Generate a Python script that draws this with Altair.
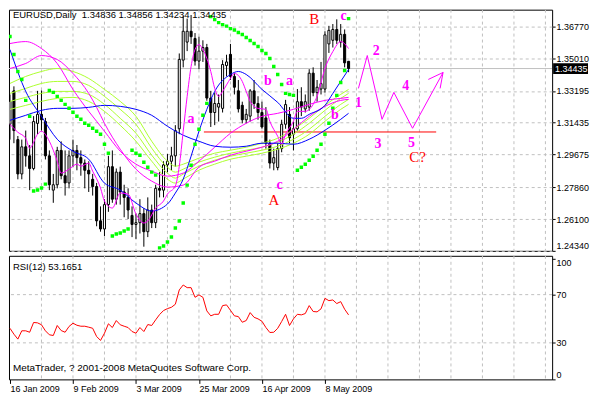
import altair as alt
import pandas as pd

# ---------------- data ----------------
TITLE = "EURUSD,Daily\u00a0 1.34836 1.34856 1.34234 1.34435"
RSI_TITLE = "RSI(12) 53.1651"
COPYRIGHT = "MetaTrader, ? 2001-2008 MetaQuotes Software Corp."

DATE_TICKS = [0, 16, 32, 48, 64, 80]
DATE_LABELS = ["16 Jan 2009", "9 Feb 2009", "3 Mar 2009", "25 Mar 2009", "16 Apr 2009", "8 May 2009"]
GRID_BARS = [8, 16, 24, 32, 40, 48, 56, 64, 72, 80, 88, 96, 104, 112, 120, 128, 136]
PRICE_TICKS = [1.2434, 1.2610, 1.2786, 1.29675, 1.31435, 1.33195, 1.3501, 1.3677]
RSI_TICKS = [0, 30, 70, 100]
RSI_LEVELS = [30, 70]

OPEN = [1.3135, 1.3320, 1.3050, 1.2860, 1.3010, 1.2960, 1.2890, 1.3140, 1.3190, 1.3150,
        1.2960, 1.2770, 1.2800, 1.2990, 1.2850, 1.2810, 1.2960, 1.2990, 1.2950, 1.2920,
        1.2880, 1.2830, 1.2790, 1.2600, 1.2555, 1.2690, 1.2900, 1.2720, 1.2870, 1.2760,
        1.2730, 1.2630, 1.2580, 1.2590, 1.2640, 1.2540, 1.2660, 1.2590, 1.2780, 1.2770,
        1.2910, 1.2930, 1.2960, 1.3110, 1.3490, 1.3590, 1.3650, 1.3610, 1.3485, 1.3540,
        1.3560, 1.3280, 1.3200, 1.3230, 1.3223, 1.3460, 1.3522, 1.3400, 1.3320, 1.3240,
        1.3160, 1.3180, 1.3320, 1.3250, 1.3200, 1.3170, 1.3030, 1.2920, 1.2895, 1.3000,
        1.3135, 1.3190, 1.3080, 1.3110, 1.3260, 1.3220, 1.3230, 1.3418, 1.3310, 1.3330,
        1.3330, 1.3580, 1.3600, 1.3660, 1.3590, 1.3633, 1.34836]
HIGH = [1.3300, 1.3345, 1.3070, 1.3050, 1.3100, 1.3020, 1.3180, 1.3320, 1.3322, 1.3170,
        1.2990, 1.2860, 1.3010, 1.3040, 1.2990, 1.2990, 1.3050, 1.3020, 1.2990, 1.2940,
        1.2930, 1.2860, 1.2810, 1.2680, 1.2720, 1.2960, 1.2990, 1.2890, 1.2900, 1.2800,
        1.2780, 1.2680, 1.2640, 1.2720, 1.2670, 1.2730, 1.2690, 1.2800, 1.2870, 1.2930,
        1.2970, 1.3010, 1.3130, 1.3527, 1.3733, 1.3720, 1.3740, 1.3640, 1.3620, 1.3600,
        1.3580, 1.3320, 1.3310, 1.3300, 1.3490, 1.3520, 1.3580, 1.3420, 1.3380, 1.3260,
        1.3220, 1.3330, 1.3380, 1.3290, 1.3260, 1.3230, 1.3050, 1.3000, 1.3030, 1.3160,
        1.3270, 1.3230, 1.3150, 1.3330, 1.3340, 1.3300, 1.3440, 1.3450, 1.3380, 1.3480,
        1.3650, 1.3680, 1.3690, 1.3716, 1.3690, 1.3660, 1.34856]
LOW = [1.3050, 1.3030, 1.2830, 1.2830, 1.2900, 1.2770, 1.2880, 1.3080, 1.3100, 1.2940,
       1.2770, 1.2700, 1.2780, 1.2830, 1.2740, 1.2780, 1.2900, 1.2880, 1.2850, 1.2780,
       1.2760, 1.2740, 1.2570, 1.2540, 1.2515, 1.2650, 1.2700, 1.2690, 1.2690, 1.2620,
       1.2610, 1.2510, 1.2500, 1.2530, 1.2457, 1.2510, 1.2560, 1.2560, 1.2730, 1.2730,
       1.2870, 1.2880, 1.2900, 1.3080, 1.3450, 1.3540, 1.3580, 1.3460, 1.3440, 1.3480,
       1.3265, 1.3120, 1.3130, 1.3150, 1.3200, 1.3400, 1.3380, 1.3300, 1.3200, 1.3140,
       1.3140, 1.3150, 1.3220, 1.3160, 1.3110, 1.3000, 1.2890, 1.2880, 1.2880, 1.2980,
       1.3110, 1.3030, 1.2990, 1.3100, 1.3180, 1.3200, 1.3210, 1.3290, 1.3260, 1.3300,
       1.3310, 1.3530, 1.3560, 1.3580, 1.3560, 1.3450, 1.34234]
CLOSE = [1.3262, 1.3100, 1.2860, 1.3010, 1.2960, 1.2890, 1.3150, 1.3190, 1.3160, 1.2960,
         1.2800, 1.2800, 1.2990, 1.2850, 1.2810, 1.2960, 1.2990, 1.2950, 1.2920, 1.2880,
         1.2860, 1.2790, 1.2600, 1.2555, 1.2690, 1.2900, 1.2720, 1.2870, 1.2760, 1.2730,
         1.2660, 1.2580, 1.2590, 1.2640, 1.2540, 1.2660, 1.2590, 1.2780, 1.2770, 1.2910,
         1.2930, 1.2960, 1.3100, 1.3494, 1.3650, 1.3650, 1.3620, 1.3485, 1.3540, 1.3560,
         1.3280, 1.3200, 1.3250, 1.3250, 1.3466, 1.3480, 1.3400, 1.3340, 1.3220, 1.3160,
         1.3190, 1.3320, 1.3250, 1.3200, 1.3120, 1.3030, 1.2920, 1.2950, 1.3000, 1.3135,
         1.3244, 1.3060, 1.3110, 1.3260, 1.3230, 1.3260, 1.3418, 1.3310, 1.3340, 1.3360,
         1.3630, 1.3655, 1.3660, 1.3600, 1.3633, 1.3475, 1.34435]
SAR = [1.36205, 1.35211, 1.34273, 1.33831, 1.32672, 1.31789, 1.27649, 1.27704, 1.27815, 1.28035,
       1.33224, 1.33114, 1.32893, 1.32672, 1.32451, 1.32231, 1.32010, 1.31789, 1.31623, 1.31403,
       1.31292, 1.31127, 1.30961, 1.30795, 1.30243, 1.29747, 1.25165, 1.25275, 1.25331, 1.25441,
       1.25551, 1.29912, 1.29747, 1.29636, 1.29250, 1.28974, 1.28698, 1.28532, 1.24503, 1.24613,
       1.24834, 1.25110, 1.25607, 1.25993, 1.26987, 1.27980, 1.29084, 1.30243, 1.31071, 1.31844,
       1.32507, 1.37309, 1.37143, 1.36978, 1.36867, 1.36785, 1.36647, 1.36564, 1.36426, 1.36315,
       1.36150, 1.35984, 1.35819, 1.35653, 1.35432, 1.35267, 1.34991, 1.34549, 1.34107, 1.33555,
       1.33059, 1.33003, 1.32948, 1.28808, 1.28974, 1.29139, 1.29360, 1.29581, 1.29912, 1.30243,
       1.30795, 1.31403, 1.32231, 1.32948, 1.33666, 1.34328, 1.37199]
RSI = [42.1, 37.2, 33.1, 40.0, 40.0, 38.8, 46.9, 46.6, 45.0, 40.0,
       36.7, 36.1, 44.4, 40.2, 38.8, 43.6, 46.3, 44.6, 43.8, 43.8,
       43.0, 42.1, 35.3, 32.0, 38.0, 45.8, 42.7, 48.5, 45.0, 43.8,
       42.7, 39.4, 38.0, 42.7, 39.4, 45.2, 44.4, 49.1, 53.5, 56.8,
       58.4, 59.5, 62.0, 73.9, 78.0, 75.8, 75.8, 67.8, 69.8, 67.8,
       56.5, 52.4, 53.7, 53.7, 60.9, 61.5, 57.0, 52.4, 51.8, 47.1,
       48.5, 55.1, 51.2, 49.9, 47.9, 42.7, 38.6, 38.8, 42.1, 47.7,
       53.7, 44.4, 49.9, 53.7, 53.2, 54.3, 60.9, 56.0, 55.7, 58.2,
       66.9, 65.0, 65.6, 62.6, 64.2, 57.9, 53.2]

# moving-average lines (sampled bars, prices)
B1_BARS = [0, 4, 8, 12, 16, 20, 24, 28, 32, 36, 40, 42, 44, 46, 48, 50, 52, 56, 58, 60, 64, 68, 72, 74, 76, 80, 82, 84, 86]
B1 = [1.35487, 1.33169, 1.31789, 1.30519, 1.29857, 1.29415, 1.28091, 1.27704, 1.26987, 1.26545,
      1.26931, 1.27539, 1.28311, 1.29581, 1.30961, 1.32175, 1.33169, 1.34107, 1.34273, 1.34107,
      1.33279, 1.32562, 1.31679, 1.31679, 1.31900, 1.32396, 1.33059, 1.33721, 1.34383]
B2_BARS = [0, 4, 8, 12, 16, 20, 24, 28, 32, 36, 40, 44, 48, 52, 56, 60, 64, 68, 72, 76, 80, 84, 86]
B2 = [1.31568, 1.31845, 1.32121, 1.32231, 1.32231, 1.32286, 1.32396, 1.32341, 1.32176, 1.31845,
      1.31237, 1.30741, 1.30409, 1.30133, 1.30078, 1.30133, 1.30299, 1.30299, 1.30243, 1.30519,
      1.31016, 1.31623, 1.31955]
M1_BARS = [0, 2, 4, 5, 7, 8, 10, 12, 13, 15, 17, 18, 20, 21, 23, 24, 26, 28, 30, 32,
           34, 35, 37, 39, 40, 42, 43, 44, 45, 46, 47, 48, 49, 51, 52, 53, 54, 56, 57, 59,
           60, 61, 63, 65, 66, 68, 69, 70, 72, 73, 75, 77, 78, 80, 82, 84, 86]
M1 = [1.31347, 1.30906, 1.30575, 1.30023, 1.30795, 1.30961, 1.30409, 1.29305, 1.28643, 1.28863,
      1.29139, 1.29029, 1.29195, 1.28753, 1.27815, 1.27097, 1.26711, 1.27539, 1.27483, 1.26379,
      1.25881, 1.25993, 1.26711, 1.27097, 1.27483, 1.27925, 1.29029, 1.30961, 1.32893, 1.34549,
      1.35487, 1.35763, 1.35487, 1.34273, 1.33335, 1.32893, 1.33169, 1.33887, 1.34163, 1.33721,
      1.33169, 1.32617, 1.32231, 1.32175, 1.31513, 1.30685, 1.30243, 1.30795, 1.31513, 1.32065,
      1.32065, 1.32451, 1.32893, 1.34439, 1.35377, 1.35929, 1.35543]
SLOW_BARS = [0, 4, 8, 12, 16, 20, 22, 24, 28, 32, 36, 40, 44, 48, 52, 56, 60, 64, 68, 72, 76, 80, 84, 86]
M2 = [1.35819, 1.35929, 1.35543, 1.34715, 1.33279, 1.32065, 1.31513, 1.30961, 1.29857, 1.29139,
      1.28753, 1.28477, 1.28643, 1.29305, 1.30078, 1.30851, 1.31403, 1.31789, 1.31955, 1.32176,
      1.32451, 1.32672, 1.32783, 1.32838]
M3 = [1.34439, 1.34715, 1.35156, 1.34935, 1.34163, 1.33059, 1.32286, 1.31403, 1.29967, 1.28863,
      1.28201, 1.27869, 1.27980, 1.28974, 1.29305, 1.29636, 1.29857, 1.30078, 1.30409, 1.31071,
      1.31789, 1.32341, 1.32672, 1.32727]
GREEN_BARS = [0, 4, 8, 12, 16, 20, 24, 28, 32, 36, 40, 42, 44, 48, 52, 56, 60, 64, 68, 72, 76, 80, 84, 86]
G1 = [1.33611, 1.33997, 1.34273, 1.34439, 1.34273, 1.33887, 1.33279, 1.32617, 1.31789, 1.30409,
      1.29305, 1.29029, 1.29139, 1.29471, 1.29747, 1.29912, 1.30078, 1.30299, 1.30575, 1.31071,
      1.31679, 1.32396, 1.33003, 1.33279]
G2 = [1.33059, 1.33335, 1.33611, 1.33721, 1.33721, 1.33501, 1.32893, 1.32175, 1.31347, 1.30023,
      1.28974, 1.28698, 1.28863, 1.29250, 1.29526, 1.29747, 1.29912, 1.30078, 1.30354, 1.30795,
      1.31403, 1.32120, 1.32783, 1.33059]
G3 = [1.32617, 1.32838, 1.33059, 1.33169, 1.33169, 1.33003, 1.32451, 1.31679, 1.30851, 1.29636,
      1.28643, 1.28367, 1.28587, 1.29029, 1.29360, 1.29581, 1.29747, 1.29912, 1.30133, 1.30519,
      1.31071, 1.31789, 1.32451, 1.32727]
G4 = [1.32175, 1.32396, 1.32617, 1.32783, 1.32838, 1.32617, 1.32065, 1.31292, 1.30409, 1.29305,
      1.28311, 1.28091, 1.28311, 1.28808, 1.29139, 1.29415, 1.29581, 1.29747, 1.29967, 1.30299,
      1.30795, 1.31513, 1.32175, 1.32451]

# hand-drawn objects
LEVEL_BARS = [49.25, 108.25]
LEVEL_PRICE = 1.30922
WAVE_BARS = [88.5, 90.75, 94.5, 97.5, 102.25, 110]
WAVE_PRICES = [1.33335, 1.35156, 1.31623, 1.33114, 1.31127, 1.34218]
BARB_BARS = [106.25, 109.25]
BARB_PRICES = [1.33831, 1.33335]

MAG_TEXT = ["a", "b", "a", "c", "c", "b", "1", "2", "3", "4", "5"]
MAG_BARS = [46, 65.5, 71, 68.5, 84.75, 82.5, 88.5, 93, 93.5, 100.5, 102]
MAG_PRICES = [1.31623, 1.33721, 1.33721, 1.27980, 1.37364, 1.31844, 1.32507, 1.35432, 1.30243, 1.33445, 1.30300]
RED_TEXT = ["A", "B", "C?"]
RED_BARS = [67, 77.25, 103.5]
RED_PRICES = [1.27153, 1.37199, 1.29526]

SERIES = ["G1", "G2", "G3", "G4", "M2", "M3", "B2", "B1", "M1"]
SERIES_COLORS = ["#ADFF2F", "#ADFF2F", "#ADFF2F", "#ADFF2F", "#FF00FF", "#FF00FF", "#0000FF", "#0000FF", "#FF00FF"]

# ---------------- frames ----------------
bars_df = pd.DataFrame({"bar": list(range(len(CLOSE))), "open": OPEN, "high": HIGH,
                        "low": LOW, "close": CLOSE, "sar": SAR, "rsi": RSI})


def frame(name, bars, prices):
    return pd.DataFrame({"series": name, "bar": bars, "price": prices, "k": list(range(len(bars)))})


lines_df = pd.concat([
    frame("G1", GREEN_BARS, G1), frame("G2", GREEN_BARS, G2), frame("G3", GREEN_BARS, G3),
    frame("G4", GREEN_BARS, G4), frame("M2", SLOW_BARS, M2), frame("M3", SLOW_BARS, M3),
    frame("B2", B2_BARS, B2), frame("B1", B1_BARS, B1), frame("M1", M1_BARS, M1),
], ignore_index=True)

wave_df = pd.concat([
    pd.DataFrame({"seg": "wave", "bar": WAVE_BARS, "price": WAVE_PRICES, "k": list(range(len(WAVE_BARS)))}),
    pd.DataFrame({"seg": "barb1", "bar": [WAVE_BARS[-1], BARB_BARS[0]], "price": [WAVE_PRICES[-1], BARB_PRICES[0]], "k": [0, 1]}),
    pd.DataFrame({"seg": "barb2", "bar": [WAVE_BARS[-1], BARB_BARS[1]], "price": [WAVE_PRICES[-1], BARB_PRICES[1]], "k": [0, 1]}),
], ignore_index=True)

# ---------------- scales / axes ----------------
FONT = "Liberation Sans"
SERIF = "Liberation Serif"
W = 545
X_SCALE = alt.Scale(domain=[-0.25, 137.7], nice=False, zero=False)
P_SCALE = alt.Scale(domain=[1.2434, 1.37696], nice=False, zero=False)
R_SCALE = alt.Scale(domain=[-0.3, 102.2], nice=False, zero=False)

P_AXIS = alt.Axis(orient="right", values=PRICE_TICKS, format=".5f", title=None,
                  grid=True, gridColor="#C0C0C0", gridDash=[3, 3], gridWidth=1,
                  ticks=True, tickSize=3, tickColor="black", domain=False,
                  labelPadding=1, labelFont=FONT, labelFontSize=9, labelColor="black",
                  labelBaseline={"condition": {"test": "datum.value < 1.25", "value": "bottom"}, "value": "middle"})
R_AXIS = alt.Axis(orient="right", values=RSI_TICKS, format="d", title=None, grid=False,
                  ticks=True, tickSize=3, tickColor="black", domain=False,
                  labelPadding=1, labelFont=FONT, labelFontSize=9, labelColor="black",
                  labelBaseline={"condition": [{"test": "datum.value >= 100", "value": "top"},
                                               {"test": "datum.value <= 0", "value": "bottom"}],
                                 "value": "middle"})
label_expr = " : ".join(f"datum.value == {t} ? '{l}'" for t, l in zip(DATE_TICKS, DATE_LABELS)) + " : ''"
X_AXIS_R = alt.Axis(orient="bottom", values=DATE_TICKS, labelExpr=label_expr, title=None,
                    grid=False, domain=False, ticks=True, tickSize=4, tickColor="black",
                    labelAlign="left", labelBaseline="top", labelFlush=False, labelPadding=1,
                    labelFont=FONT, labelFontSize=9, labelColor="black")

xm = alt.X("bar:Q", scale=X_SCALE, axis=None)


def py(field):
    return alt.Y(field, scale=P_SCALE, axis=P_AXIS)


# ---------------- main panel ----------------
vgrid = alt.Chart(pd.DataFrame({"bar": GRID_BARS})).mark_rule(
    color="#C0C0C0", strokeDash=[3, 3], strokeWidth=1, clip=True).encode(x=xm)

price_line = alt.Chart(pd.DataFrame({"price": [CLOSE[-1]]})).mark_rule(
    color="#C0C0C0", strokeWidth=1, clip=True).encode(y=py("price:Q"))

level = alt.Chart(pd.DataFrame({"b0": [LEVEL_BARS[0]], "b1": [LEVEL_BARS[1]], "price": [LEVEL_PRICE]})).mark_rule(
    color="#FF0000", strokeWidth=1, clip=True).encode(
    x=alt.X("b0:Q", scale=X_SCALE, axis=None), x2="b1:Q", y=py("price:Q"))

wicks = alt.Chart(bars_df).mark_rule(color="black", strokeWidth=1, clip=True).encode(
    x=xm, y=py("low:Q"), y2="high:Q")

bodies = alt.Chart(bars_df).transform_calculate(
    l="datum.bar - 0.26", r="datum.bar + 0.26",
    top="max(datum.open, datum.close)", bot="min(datum.open, datum.close)",
    dir="datum.close >= datum.open ? 'up' : 'down'",
).mark_rect(stroke="black", strokeWidth=1, clip=True).encode(
    x=alt.X("l:Q", scale=X_SCALE, axis=None), x2="r:Q",
    y=py("bot:Q"), y2="top:Q",
    fill=alt.Fill("dir:N", scale=alt.Scale(domain=["up", "down"], range=["white", "black"]), legend=None),
)

ma_lines = alt.Chart(lines_df).mark_line(strokeWidth=1, interpolate="monotone", clip=True).encode(
    x=xm, y=py("price:Q"),
    color=alt.Color("series:N", scale=alt.Scale(domain=SERIES, range=SERIES_COLORS), legend=None),
    order="k:Q",
)

sar_dots = alt.Chart(bars_df).mark_square(size=12, color="#00FF00", opacity=1, filled=True, clip=True).encode(
    x=xm, y=py("sar:Q"))

wave = alt.Chart(wave_df).mark_line(color="#FF00FF", strokeWidth=1, clip=True).encode(
    x=xm, y=py("price:Q"), detail="seg:N", order="k:Q")

mag = alt.Chart(pd.DataFrame({"t": MAG_TEXT, "bar": MAG_BARS, "price": MAG_PRICES})).mark_text(
    font=SERIF, fontSize=14, fontWeight="bold", color="#FF00FF", baseline="middle", align="center",
    clip=True).encode(x=xm, y=py("price:Q"), text="t:N")

red = alt.Chart(pd.DataFrame({"t": RED_TEXT, "bar": RED_BARS, "price": RED_PRICES})).mark_text(
    font=SERIF, fontSize=15, color="#FF0000", baseline="middle", align="center", clip=True).encode(
    x=xm, y=py("price:Q"), text="t:N")

title = alt.Chart(pd.DataFrame({"t": [TITLE]})).mark_text(
    align="left", baseline="middle", font=FONT, fontSize=9.5, color="black", clip=True).encode(
    x=alt.value(4), y=alt.value(5), text="t:N")

box = alt.Chart(pd.DataFrame({"price": [CLOSE[-1]]})).transform_calculate(
    top="datum.price + 0.003", bot="datum.price - 0.003").mark_rect(color="black").encode(
    x=alt.value(W + 1), x2=alt.value(W + 36), y=py("top:Q"), y2="bot:Q")

box_text = alt.Chart(pd.DataFrame({"price": [CLOSE[-1]]})).mark_text(
    align="left", baseline="middle", font=FONT, fontSize=9, color="white").encode(
    x=alt.value(W + 3), y=py("price:Q"), text=alt.Text("price:Q", format=".5f"))

main = alt.layer(vgrid, price_line, level, wicks, bodies, ma_lines, sar_dots, wave,
                 mag, red, title, box, box_text).properties(width=W, height=242)

# ---------------- RSI panel ----------------
xr = alt.X("bar:Q", scale=X_SCALE, axis=X_AXIS_R)

rvgrid = alt.Chart(pd.DataFrame({"bar": GRID_BARS})).mark_rule(
    color="#C0C0C0", strokeDash=[3, 3], strokeWidth=1, clip=True).encode(x=xr)
rhgrid = alt.Chart(pd.DataFrame({"v": RSI_LEVELS})).mark_rule(
    color="#C0C0C0", strokeDash=[3, 3], strokeWidth=1, clip=True).encode(
    y=alt.Y("v:Q", scale=R_SCALE, axis=R_AXIS))
rsi_line = alt.Chart(bars_df).mark_line(color="#FF0000", strokeWidth=1, clip=True).encode(
    x=xr, y=alt.Y("rsi:Q", scale=R_SCALE, axis=R_AXIS))
rsi_txt = alt.Chart(pd.DataFrame({"t": [RSI_TITLE]})).mark_text(
    align="left", baseline="middle", font=FONT, fontSize=9.5, color="black", clip=True).encode(
    x=alt.value(4), y=alt.value(11), text="t:N")
copy_txt = alt.Chart(pd.DataFrame({"t": [COPYRIGHT]})).mark_text(
    align="left", baseline="middle", font=FONT, fontSize=10, color="black", clip=True).encode(
    x=alt.value(4), y=alt.value(113), text="t:N")

rsi_panel = alt.layer(rvgrid, rhgrid, rsi_line, rsi_txt, copy_txt).properties(width=W, height=124)

chart = alt.vconcat(main, rsi_panel, spacing=3).properties(
    padding=0, background="white"
).configure_view(stroke="black", strokeWidth=1)

chart.save("out.html", embed_options={"renderer": "svg", "actions": False})
